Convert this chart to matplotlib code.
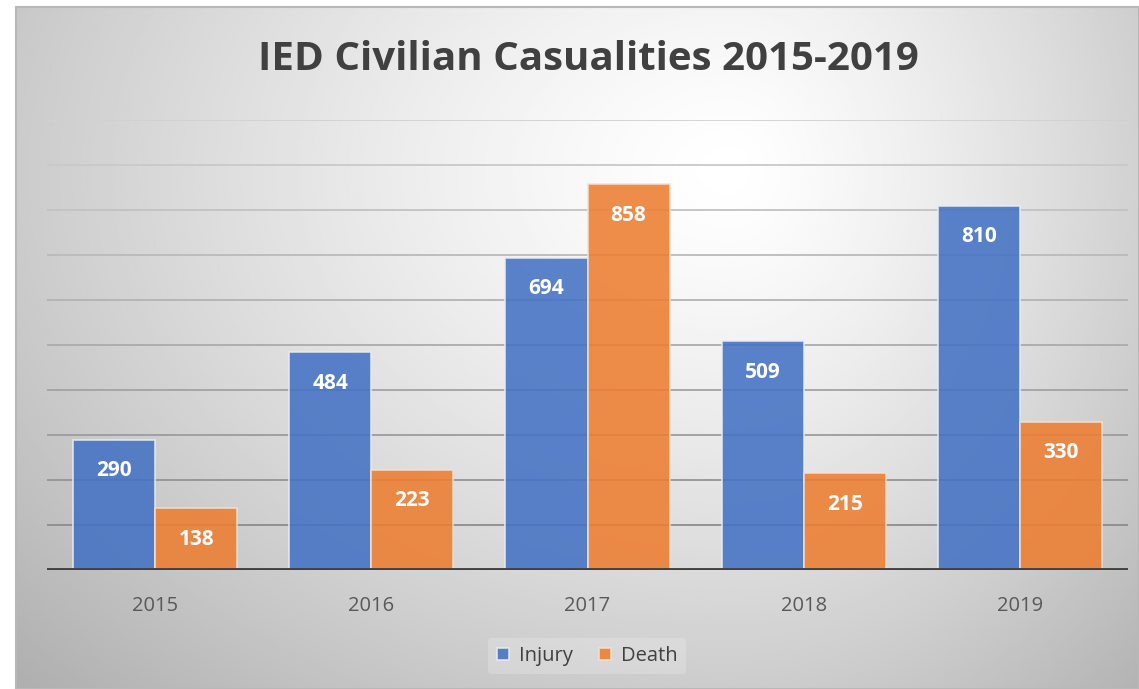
import matplotlib.pyplot as plt
import numpy as np

years = ['2015', '2016', '2017', '2018', '2019']
injury = [290, 484, 694, 509, 810]
death = [138, 223, 858, 215, 330]

W, H = 1139, 689
fig = plt.figure(figsize=(W / 100, H / 100), dpi=100)
fig.patch.set_facecolor('white')

# radial grey background like the Excel chart area
bg = fig.add_axes([16 / W, 0, 1 - 16 / W, 1 - 7 / H])
xx, yy = np.meshgrid(np.linspace(16, W, 400), np.linspace(7, H, 250))
cx, cy = 730, 170
rx = np.where(xx < cx, 760, 480)
d = np.sqrt(((xx - cx) / rx) ** 2 + ((yy - cy) / 560) ** 2)
v = 1 - 0.22 * np.clip(d, 0, 1.3) ** 1.3
bg.imshow(v, cmap='gray', vmin=0, vmax=1, aspect='auto', interpolation='bilinear')
bg.set_xticks([])
bg.set_yticks([])
for s in bg.spines.values():
    s.set_color('#b8b8b8')
    s.set_linewidth(1.5)

ax = fig.add_axes([47 / W, 1 - 570 / H, (1128 - 47) / W, (570 - 120) / H])
ax.set_facecolor('none')

x = np.arange(len(years))
width = 0.38

# gridlines, lighter toward the top
for i, g in enumerate(range(100, 1001, 100)):
    c = 0.55 + 0.27 * i / 9
    ax.axhline(g, color=(c, c, c), lw=1.3, zorder=1)

rects1 = ax.bar(x - width / 2, injury, width, color='#4472C4', alpha=0.88,
                edgecolor='#e8ecf4', linewidth=1.2, label='Injury', zorder=2)
rects2 = ax.bar(x + width / 2, death, width, color='#ED7D31', alpha=0.88,
                edgecolor='#f6e0d2', linewidth=1.2, label='Death', zorder=2)

ax.bar_label(rects1, padding=-30, color='white', fontsize=15, fontweight='bold',
             family='Open Sans')
ax.bar_label(rects2, padding=-30, color='white', fontsize=15, fontweight='bold',
             family='Open Sans')

ax.axhline(0, color='#404040', lw=3.5, zorder=3)
ax.set_xlim(-0.5, 4.5)
ax.set_ylim(0, 1000)
ax.set_yticks([])
ax.set_xticks(x, years)
ax.tick_params(axis='x', length=0, pad=19, labelsize=14.5, labelcolor='#595959')
for lbl in ax.get_xticklabels():
    lbl.set_family('Open Sans')
for s in ax.spines.values():
    s.set_visible(False)

fig.text(588 / W, 1 - 59 / H, 'IED Civilian Casualities 2015-2019', ha='center', va='center',
         fontsize=29, fontweight='bold', color='#404040', family='Open Sans')

leg = fig.legend(loc='center', bbox_to_anchor=(587 / W, 1 - 656 / H), ncol=2,
                 frameon=True, prop={'family': 'Open Sans', 'size': 14.5},
                 handlelength=0.6, handleheight=0.6, handletextpad=0.5, columnspacing=1.3,
                 labelcolor='#404040')
leg.get_frame().set_facecolor('white')
leg.get_frame().set_alpha(0.2)
leg.get_frame().set_edgecolor('none')

fig.savefig('out.png', dpi=100)
